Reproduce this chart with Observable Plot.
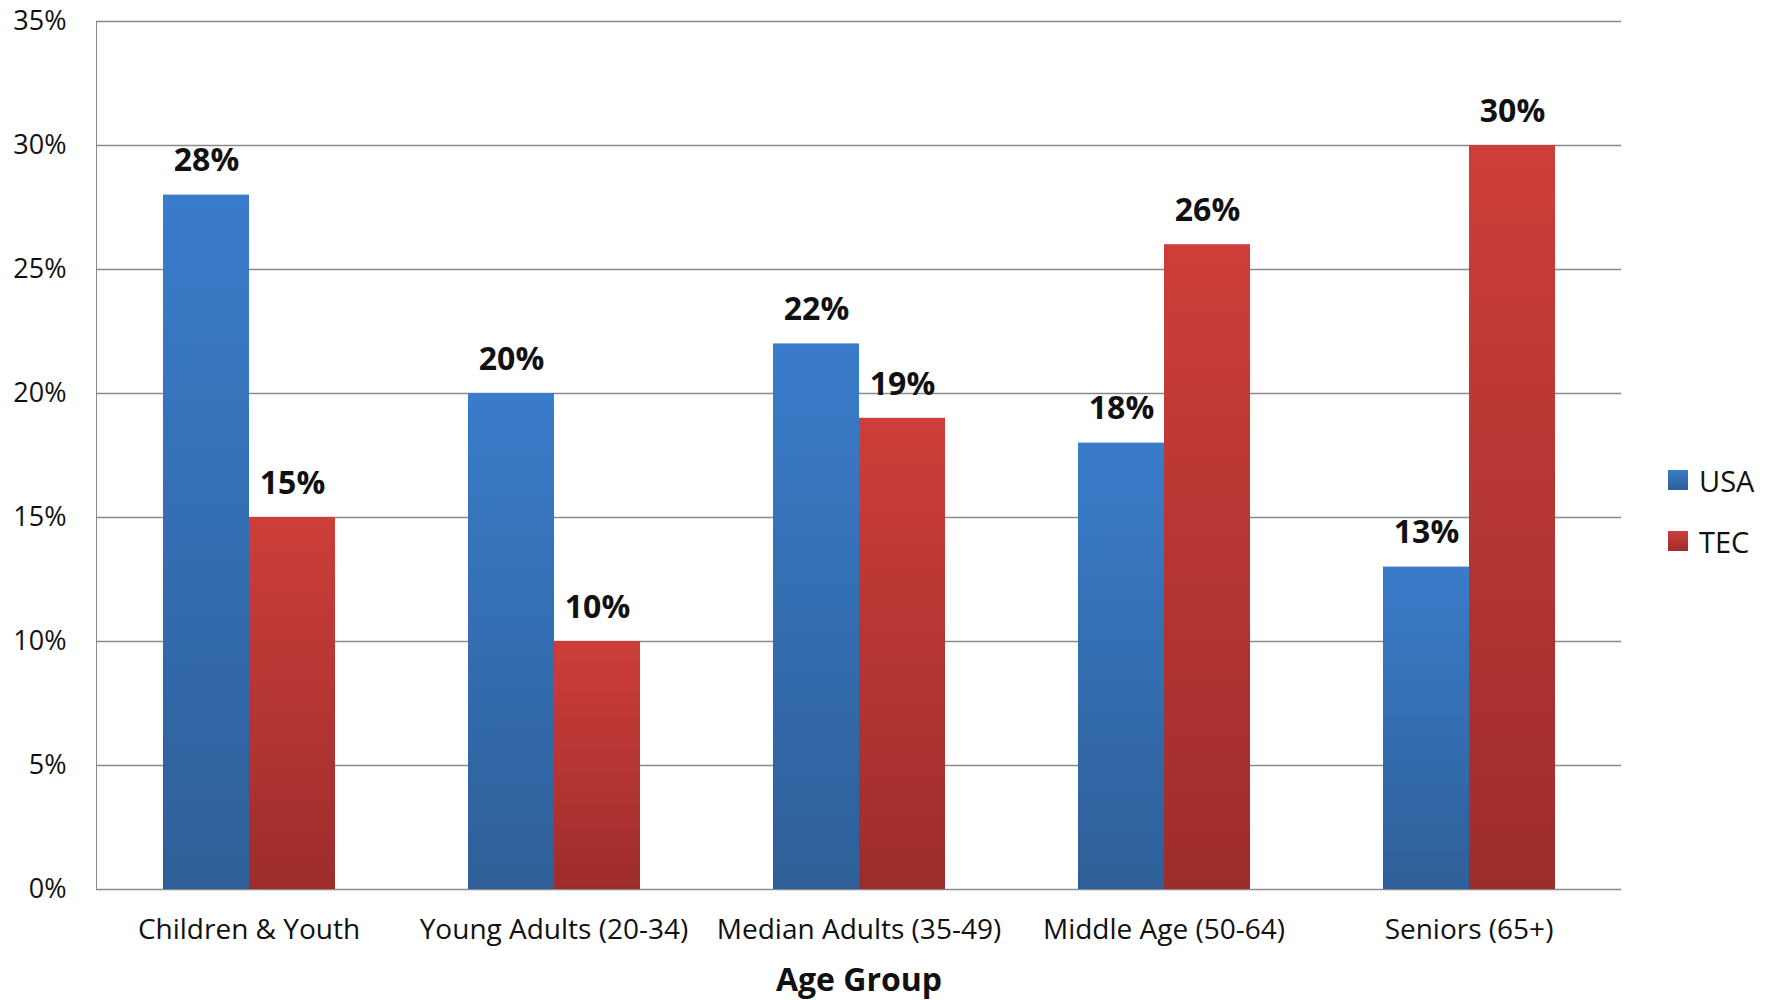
<!DOCTYPE html>
<html>
<head>
<meta charset="utf-8">
<script src="https://cdn.jsdelivr.net/npm/d3@7"></script>
<script src="https://cdn.jsdelivr.net/npm/@observablehq/plot@0.6"></script>
<style>
  html, body { margin: 0; padding: 0; background: #fff; }
  #wrap { position: relative; width: 1781px; height: 1000px; overflow: hidden; }
  #chart svg text { fill: #111; }
  #chart g[aria-label="fx-axis label"] text { font-weight: bold; font-size: 32px; }
  #chart g[aria-label="fx-axis tick label"] text { font-size: 28px; }
  #chart g[aria-label="y-axis tick label"] text { font-size: 27px; }
  .legend { position: absolute; left: 1668px; top: 0; font-family: "Open Sans", sans-serif; font-size: 29px; color: #111; }
  .legend .item { position: absolute; left: 0; display: flex; align-items: center; white-space: nowrap; height: 40px; }
  .legend .sw { width: 20px; height: 20px; margin-right: 11px; }
</style>
</head>
<body>
<div id="wrap">
  <div id="chart"></div>
  <div class="legend" id="legend"></div>
</div>
<script>
const categories = ["Children & Youth", "Young Adults (20-34)", "Median Adults (35-49)", "Middle Age (50-64)", "Seniors (65+)"];
const series = ["USA", "TEC"];
const usaValues = [28, 20, 22, 18, 13];
const tecValues = [15, 10, 19, 26, 30];
const yTicks = [0, 5, 10, 15, 20, 25, 30, 35];
const gradients = {
  USA: ["#3a7cca", "#2e5f98"],
  TEC: ["#cd3e3a", "#9d2d2c"]
};

const data = categories.flatMap((c, i) => [
  {cat: c, series: "USA", value: usaValues[i]},
  {cat: c, series: "TEC", value: tecValues[i]}
]);

const plot = Plot.plot({
  width: 1781,
  height: 1000,
  marginLeft: 95,
  marginRight: 159,
  marginTop: 21,
  marginBottom: 111,
  style: {fontFamily: "Open Sans, sans-serif", fontSize: "26px", color: "#8a8a8a", background: "white", overflow: "visible"},
  fx: {domain: categories, padding: 0, label: "Age Group", labelAnchor: "center", labelOffset: 101, tickSize: 0, tickPadding: 30, axis: "bottom"},
  x: {domain: series, paddingInner: 0, paddingOuter: 0.755, axis: null},
  y: {domain: [0, 35], ticks: yTicks, tickFormat: d => d + "%", tickSize: 0, tickPadding: 30, label: null, line: true},
  marks: [
    Plot.ruleY(yTicks, {stroke: "#8a8a8a", strokeWidth: 1.5}),
    Plot.barY(data.filter(d => d.series === "USA"), {fx: "cat", x: "series", y: "value", fill: "url(#gUSA)"}),
    Plot.barY(data.filter(d => d.series === "TEC"), {fx: "cat", x: "series", y: "value", fill: "url(#gTEC)"}),
    Plot.text(data, {fx: "cat", x: "series", y: "value", text: d => d.value + "%", dy: -34, fontWeight: "bold", fontSize: 32, fill: "#111"})
  ]
});

const defs = series.map(s => `<linearGradient id="g${s}" x1="0" y1="0" x2="0" y2="1"><stop offset="0" stop-color="${gradients[s][0]}"/><stop offset="1" stop-color="${gradients[s][1]}"/></linearGradient>`).join("");
plot.insertAdjacentHTML("afterbegin", `<defs>${defs}</defs>`);
document.getElementById("chart").appendChild(plot);

const legend = document.getElementById("legend");
const legendTops = {USA: 460, TEC: 521};
series.forEach(s => {
  const item = document.createElement("div");
  item.className = "item";
  item.style.top = legendTops[s] + "px";
  item.innerHTML = `<span class="sw" style="background:linear-gradient(${gradients[s][0]}, ${gradients[s][1]})"></span><span>${s}</span>`;
  legend.appendChild(item);
});
</script>
</body>
</html>
